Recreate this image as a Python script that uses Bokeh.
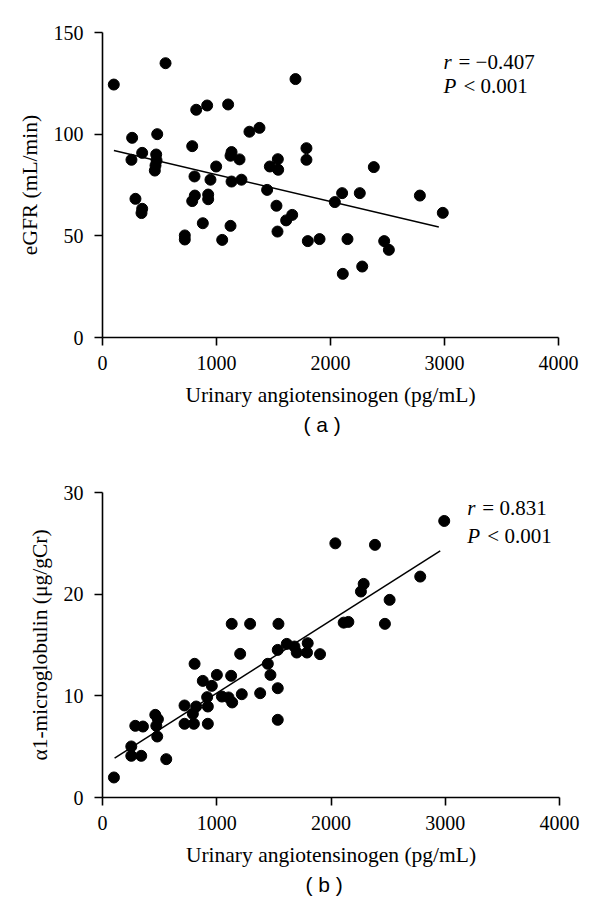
from bokeh.plotting import figure
from bokeh.models import Range1d, FixedTicker, Label, Title
from bokeh.layouts import column
from bokeh.embed import file_html
from bokeh.resources import INLINE

# ---------------- data: panel (a) ----------------
agt_a = [99, 553, 1693, 260, 480, 348, 254, 471, 474, 465, 459, 787, 822, 918, 1102,
         1289, 1377, 1132, 1123, 1202, 997, 807, 947, 1132, 1219, 1789, 1789, 1538,
         1468, 1541, 2380, 1444, 2102, 2257, 2038, 2784, 2985, 289, 348, 342, 810,
         787, 927, 927, 1526, 1664, 1611, 880, 1123, 1535, 722, 722, 1050, 1801,
         1904, 2149, 2471, 2512, 2108, 2278]
egfr = [124.4, 134.9, 127.1, 98.2, 100.0, 90.8, 87.4, 90.0, 87.1, 84.6, 82.1, 94.1,
        112.0, 114.1, 114.6, 101.2, 103.1, 91.2, 89.4, 87.6, 84.1, 79.2, 77.6, 76.7,
        77.6, 93.1, 87.4, 87.7, 84.1, 82.5, 83.8, 72.6, 71.0, 71.0, 66.6, 69.8, 61.3,
        68.2, 63.3, 61.2, 69.8, 67.1, 70.3, 68.0, 64.8, 60.3, 57.6, 56.2, 54.9, 52.1,
        50.2, 48.2, 48.0, 47.4, 48.4, 48.4, 47.4, 43.1, 31.3, 34.9]
fit_a_x = [100, 2950]
fit_a_y = [92.0, 54.3]

# ---------------- data: panel (b) ----------------
agt_b = [100, 252, 252, 339, 558, 287, 354, 462, 485, 471, 479, 718, 718, 800, 791,
         820, 806, 922, 922, 916, 878, 957, 1001, 1045, 1103, 1135, 1126, 1131, 1292,
         1205, 1219, 1380, 1447, 1470, 1534, 1534, 1534, 1540, 1613, 1680, 1700, 1796,
         1790, 1904, 2038, 2385, 2991, 2111, 2152, 2472, 2262, 2286, 2513, 2781]
a1mg = [1.97, 5.02, 4.10, 4.10, 3.77, 7.05, 6.98, 8.13, 7.70, 7.05, 6.00, 9.05, 7.25,
        7.25, 8.23, 8.95, 13.15, 7.25, 8.95, 9.87, 11.47, 10.98, 12.06, 9.93, 9.84,
        9.35, 11.97, 17.08, 17.08, 14.13, 10.16, 10.26, 13.15, 12.06, 10.75, 7.64,
        14.52, 17.08, 15.11, 14.85, 14.26, 15.18, 14.26, 14.10, 25.0, 24.85, 27.2,
        17.2, 17.27, 17.08, 20.26, 21.01, 19.44, 21.73]
fit_b_x = [106, 2956]
fit_b_y = [3.87, 24.26]

x_ticks = [0, 1000, 2000, 3000, 4000]
y_ticks_a = [0, 50, 100, 150]
y_ticks_b = [0, 10, 20, 30]

SERIF = "Liberation Serif"
SANS = "Liberation Sans"


def make_panel(xs, ys, fx, fy, ymax, yticks, ylabel, r_text, cap_text,
               left, top, right, bottom, fw, fh, ann_x, ann_y1, ann_y2, cap_offset):
    p = figure(frame_width=fw, frame_height=fh, output_backend="svg",
               toolbar_location=None, x_range=Range1d(0, 4000), y_range=Range1d(0, ymax),
               min_border_left=left, min_border_top=top, min_border_right=right,
               min_border_bottom=bottom, background_fill_color="white",
               border_fill_color="white")
    p.outline_line_color = None
    p.grid.visible = False
    p.scatter(xs, ys, size=11, marker="circle", fill_color="black", line_color="black")
    p.line(fx, fy, line_color="black", line_width=1.5)

    for ax in (p.xaxis[0], p.yaxis[0]):
        ax.axis_line_width = 1.6
        ax.axis_line_color = "black"
        ax.major_tick_line_width = 1.6
        ax.major_tick_line_color = "black"
        ax.major_tick_out = 8
        ax.major_tick_in = 0
        ax.minor_tick_line_color = None
        ax.major_label_text_font = SERIF
        ax.major_label_text_font_size = "20px"
        ax.major_label_text_color = "black"
        ax.axis_label_text_font = SERIF
        ax.axis_label_text_font_size = "21.5px"
        ax.axis_label_text_font_style = "normal"
        ax.axis_label_text_color = "black"
    p.xaxis[0].major_label_standoff = 10
    p.yaxis[0].major_label_standoff = 11
    p.xaxis[0].ticker = FixedTicker(ticks=x_ticks)
    p.yaxis[0].ticker = FixedTicker(ticks=yticks)
    p.xaxis[0].axis_label = "Urinary angiotensinogen (pg/mL)"
    p.yaxis[0].axis_label = ylabel
    p.xaxis[0].axis_label_standoff = 10
    p.yaxis[0].axis_label_standoff = 9

    p.add_layout(Label(x=ann_x, y=ann_y1, text="r", text_font=SERIF, text_font_size="21px",
                       text_font_style="italic", text_baseline="alphabetic",
                       text_color="black"))
    p.add_layout(Label(x=ann_x, y=ann_y1, x_offset=15, text="= " + r_text, text_font=SERIF,
                       text_font_size="21px", text_baseline="alphabetic", text_color="black"))
    p.add_layout(Label(x=ann_x, y=ann_y2, text="P", text_font=SERIF, text_font_size="21px",
                       text_font_style="italic", text_baseline="alphabetic",
                       text_color="black"))
    p.add_layout(Label(x=ann_x, y=ann_y2, x_offset=20, text="< 0.001", text_font=SERIF,
                       text_font_size="21px", text_baseline="alphabetic", text_color="black"))
    p.add_layout(Title(text=cap_text, align="left", text_font=SANS, text_font_size="21px",
                       text_font_style="normal", text_color="black", offset=cap_offset,
                       standoff=3), "below")
    return p


pa = make_panel(agt_a, egfr, fit_a_x, fit_a_y, 150, y_ticks_a, "eGFR (mL/min)", "\u22120.407",
                "( a )", 102, 32, 34, 125, 456, 305, 2991, 135.3, 123.5, 201)
pb = make_panel(agt_b, a1mg, fit_b_x, fit_b_y, 30, y_ticks_b, "\u03b11-microglobulin (\u03bcg/gCr)",
                "0.831", "( b )", 100, 30, 35, 116, 457, 305, 3193, 28.46, 25.73, 203)

layout = column(pa, pb, spacing=0)
open("out.html", "w").write(file_html(layout, INLINE))
